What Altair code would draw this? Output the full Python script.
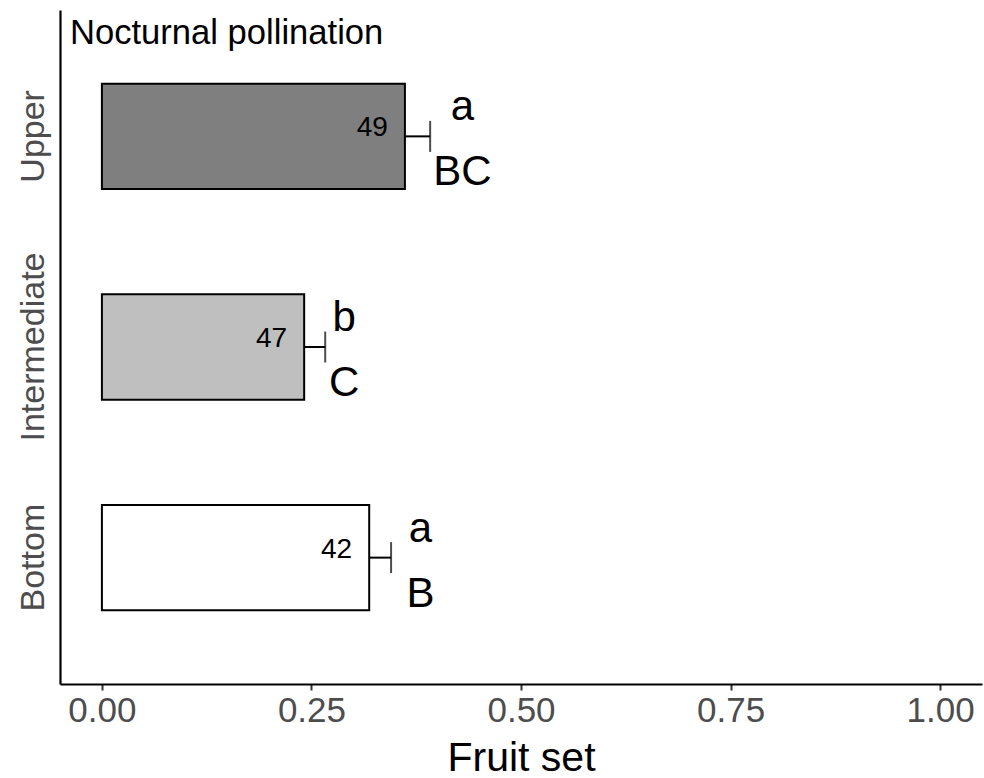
import altair as alt
import pandas as pd

# ---- data ----
zones = ["Upper", "Intermediate", "Bottom"]
fruit_set = [0.3615, 0.2413, 0.3189]
err_upper = [0.3916, 0.2664, 0.3450]
n_flowers = [49, 47, 42]
letters_lower = ["a", "b", "a"]
letters_upper = ["BC", "C", "B"]
letter_x = [0.430, 0.289, 0.380]
fills = ["#7f7f7f", "#bfbfbf", "#ffffff"]
x_ticks = [0.0, 0.25, 0.5, 0.75, 1.0]
panel_title = "Nocturnal pollination"
x_title = "Fruit set"

FONT = "Liberation Sans"

df = pd.DataFrame({
    "zone": zones,
    "start": [0.0] * len(zones),
    "fruit_set": fruit_set,
    "err_upper": err_upper,
    "n": n_flowers,
    "lower": letters_lower,
    "upper": letters_upper,
    "letter_x": letter_x,
})

xscale = alt.Scale(domain=[-0.05, 1.05], nice=False, zero=False)
yscale = alt.Scale(domain=zones, paddingInner=0.5, paddingOuter=0.35)

x_axis = alt.Axis(
    values=x_ticks, format=".2f", grid=False,
    labelFontSize=35, labelColor="#4d4d4d", labelFont=FONT, labelPadding=3,
    labelFlush=False, labelOverlap=False,
    tickColor="#333333", tickSize=6, tickWidth=2,
    domainColor="black", domainWidth=2.2,
    title=x_title, titleFontSize=41, titleFont=FONT, titleFontWeight="normal",
    titleColor="black", titleBaseline="alphabetic", titleY=86,
)
y_axis = alt.Axis(
    title=None, ticks=False, tickSize=0, grid=False,
    labelAngle=270, labelAlign="center", labelBaseline="alphabetic",
    labelPadding=17, labelFontSize=34, labelColor="#4d4d4d", labelFont=FONT,
    labelOverlap=False, labelLimit=1000,
    domainColor="black", domainWidth=2.2,
)

base = alt.Chart(df)

bars = base.mark_bar(stroke="black", strokeWidth=2).encode(
    x=alt.X("start:Q", scale=xscale, axis=x_axis),
    x2="fruit_set:Q",
    y=alt.Y("zone:N", scale=yscale, axis=y_axis, sort=zones),
    fill=alt.Fill("zone:N", scale=alt.Scale(domain=zones, range=fills), legend=None),
)

err_line = base.mark_rule(color="black", strokeWidth=2).encode(
    x=alt.X("fruit_set:Q", scale=xscale),
    x2="err_upper:Q",
    y=alt.Y("zone:N", scale=yscale, sort=zones),
)

err_tick = base.mark_tick(color="black", thickness=2, size=31, orient="vertical").encode(
    x=alt.X("err_upper:Q", scale=xscale),
    y=alt.Y("zone:N", scale=yscale, sort=zones),
)

counts = base.mark_text(
    align="right", baseline="alphabetic", dx=-17, fontSize=28, font=FONT, color="black"
).encode(
    x=alt.X("fruit_set:Q", scale=xscale),
    y=alt.Y("zone:N", scale=yscale, sort=zones),
    text="n:Q",
)

lower_txt = base.mark_text(
    align="center", baseline="alphabetic", dy=-16, fontSize=42, font=FONT, color="black"
).encode(
    x=alt.X("letter_x:Q", scale=xscale),
    y=alt.Y("zone:N", scale=yscale, sort=zones),
    text="lower:N",
)

upper_txt = base.mark_text(
    align="center", baseline="alphabetic", dy=49, fontSize=42, font=FONT, color="black"
).encode(
    x=alt.X("letter_x:Q", scale=xscale),
    y=alt.Y("zone:N", scale=yscale, sort=zones),
    text="upper:N",
)

title_txt = alt.Chart(pd.DataFrame({"t": [panel_title]})).mark_text(
    align="left", baseline="alphabetic", fontSize=34.6, font=FONT, color="black"
).encode(
    x=alt.value(10),
    y=alt.value(34),
    text="t:N",
)

chart = alt.layer(bars, err_line, err_tick, counts, lower_txt, upper_txt, title_txt).properties(
    width=922,
    height=674,
    padding={"left": 60, "top": 10, "right": 2, "bottom": 94},
    autosize=alt.AutoSizeParams(type="none"),
    background="white",
).configure_view(stroke=None)

chart.save("out.html", embed_options={"renderer": "svg", "actions": False})
